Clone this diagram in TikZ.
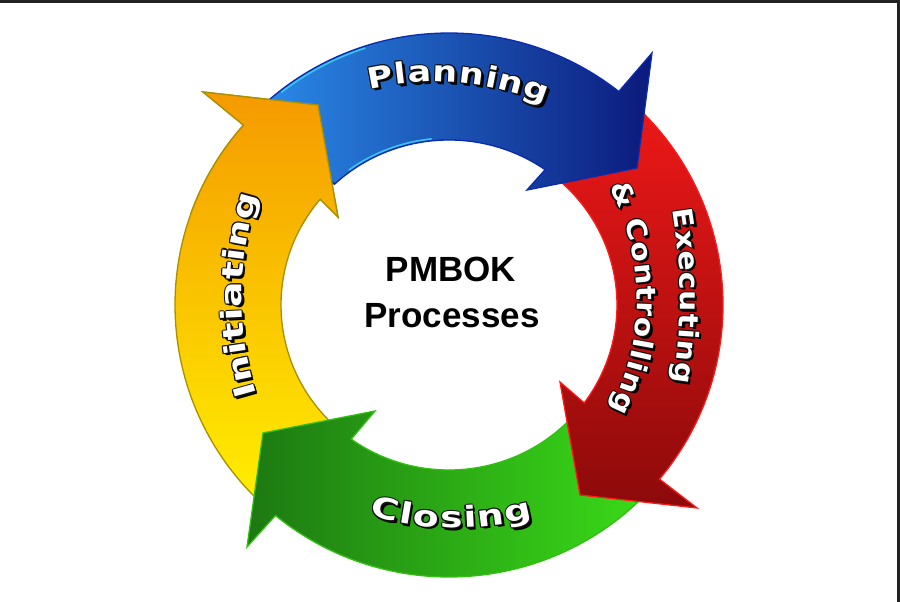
\documentclass[tikz,border=0pt]{standalone}
\usepackage{fontspec}
\usetikzlibrary{decorations.text}
\newfontfamily\arcfam{DejaVu Sans}[FakeStretch=1.2]
\newfontfamily\arcfamW{DejaVu Sans}[FakeStretch=1.3]
\newfontfamily\arcfamN{DejaVu Sans}[FakeStretch=1.1]
\newfontfamily\ctrfam{Liberation Sans}
\newcommand\lblfont{\arcfam\bfseries\fontsize{29pt}{29pt}\selectfont}
\newcommand\lblfontW{\arcfamW\bfseries\fontsize{29pt}{29pt}\selectfont}
\newcommand\lblfontN{\arcfamN\bfseries\fontsize{27pt}{27pt}\selectfont}
\newcommand\ctrfont{\ctrfam\bfseries\fontsize{35pt}{35pt}\selectfont}
\definecolor{framec}{HTML}{222222}
\definecolor{blueL}{HTML}{2A8AE8}
\definecolor{blueD}{HTML}{0B1A7C}
\definecolor{blueE}{HTML}{0A2AB0}
\definecolor{blueC}{HTML}{3CC4F0}
\definecolor{redL}{HTML}{F01818}
\definecolor{redD}{HTML}{8C0A0A}
\definecolor{redE}{HTML}{FF1A1A}
\definecolor{greenL}{HTML}{3ADC18}
\definecolor{greenD}{HTML}{1D7812}
\definecolor{greenE}{HTML}{30C010}
\definecolor{yelL}{HTML}{FFEE00}
\definecolor{yelD}{HTML}{F59A00}
\definecolor{yelE}{HTML}{A89000}
\definecolor{lblshadow}{HTML}{000000}
\definecolor{lbledge}{HTML}{121212}
\tikzset{
  arrowbase/.style={line width=1.3pt, line join=miter},
  bluearrow/.style={arrowbase, left color=blueL, right color=blueD, draw=blueE},
  redarrow/.style={arrowbase, top color=redL, bottom color=redD, draw=redE},
  greenarrow/.style={arrowbase, right color=greenL, left color=greenD, draw=greenE},
  yelarrow/.style={arrowbase, bottom color=yelL, top color=yelD, draw=yelE},
  rim/.style={line width=1.6pt, line cap=round},
}
% #1 centre, #2 start angle, #3 end angle, #4 radius, #5 font, #6 text
\newcommand\arclabel[6]{%
  \foreach \dx/\dy/\col in {2.4/-2.4/lblshadow,1.6/-1.6/lblshadow,1.1/0/lbledge,-1.1/0/lbledge,0/1.1/lbledge,0/-1.1/lbledge,0.8/0.8/lbledge,-0.8/-0.8/lbledge,0.8/-0.8/lbledge,-0.8/0.8/lbledge}{%
    \path[decorate,decoration={text along path,text={|#5|#6},text align=fit to path,text color=\col},shift={(\dx,\dy)}] #1 ++(#2:#4) arc[start angle=#2,end angle=#3,radius=#4];
  }%
  \path[decorate,decoration={text along path,text={|#5|#6},text align=fit to path,text color=white}] #1 ++(#2:#4) arc[start angle=#2,end angle=#3,radius=#4];
}
\newcommand\yellowpath{([shift={(O)}]226:274 and 272) arc[start angle=226, end angle=138.6, x radius=274, y radius=272] -- (203,510) -- (318,497) -- (338,385) -- ([shift={(O)}]140.1:168 and 165) arc[start angle=140.1, end angle=226, x radius=168, y radius=165] -- cycle}
\begin{document}
\begin{tikzpicture}[x=1pt,y=1pt]
\fill[white] (0,0) rectangle (900,602);
\useasboundingbox (0,0) rectangle (900,602);
\coordinate (O) at (449,297);
% Initiating (yellow)
\path[yelarrow] \yellowpath;
% Closing (green)
\path[greenarrow] ([shift={(O)}]-43:274 and 272) arc[start angle=-43, end angle=-129.3, x radius=274, y radius=272] -- (247,55) -- (263,169) -- (375,191) -- ([shift={(O)}]-125.6:168 and 165) arc[start angle=-125.6, end angle=-43, x radius=168, y radius=165] -- cycle;
% Executing & Controlling (red)
\path[redarrow] ([shift={(O)}]50:274 and 272) arc[start angle=50, end angle=-39.8, x radius=274, y radius=272] -- (697,94) -- (580,107) -- (560,220) -- ([shift={(O)}]-36.4:168 and 165) arc[start angle=-36.4, end angle=50, x radius=168, y radius=165] -- cycle;
% Planning (blue)
\path[bluearrow] ([shift={(O)}]133:274 and 272) arc[start angle=133, end angle=51.7, x radius=274, y radius=272] -- (652,549) -- (637,434) -- (527,412) -- ([shift={(O)}]55.1:168 and 165) arc[start angle=55.1, end angle=133, x radius=168, y radius=165] -- cycle;
% cyan rims on the blue tail
\draw[rim, blueC] ([shift={(O)}]128:272 and 270) arc[start angle=128, end angle=108, x radius=272, y radius=270];
\draw[rim, blueC] ([shift={(O)}]126:170 and 167) arc[start angle=126, end angle=96, x radius=170, y radius=167];
% yellow head over blue tail
\begin{scope}
\clip (190,375) rectangle (350,530);
\path[yelarrow] \yellowpath;
\end{scope}
% labels
\arclabel{(435,230)}{103}{67.7}{290}{\lblfont}{Planning}
\arclabel{(455,374)}{253.5}{285.1}{300}{\lblfontW}{Closing}
\arclabel{(579,305)}{196.9}{162.4}{337}{\lblfontW}{Initiating}
\arclabel{(150,305)}{9.45}{-9.3}{530}{\lblfontN}{Executing}
\arclabel{(397,302)}{28.1}{-27.3}{240}{\lblfontN}{{\&} Controlling}
% centre
\node[font=\ctrfont, anchor=base, inner sep=0pt] (pmbok) at (451,320) {PMBOK};
\node[font=\ctrfont, anchor=base, inner sep=0pt] (processes) at (452,274) {Processes};
% frame
\fill[framec] (0,599.3) rectangle (900,602);
\fill[framec] (897,0) rectangle (900,602);
\end{tikzpicture}
\end{document}
